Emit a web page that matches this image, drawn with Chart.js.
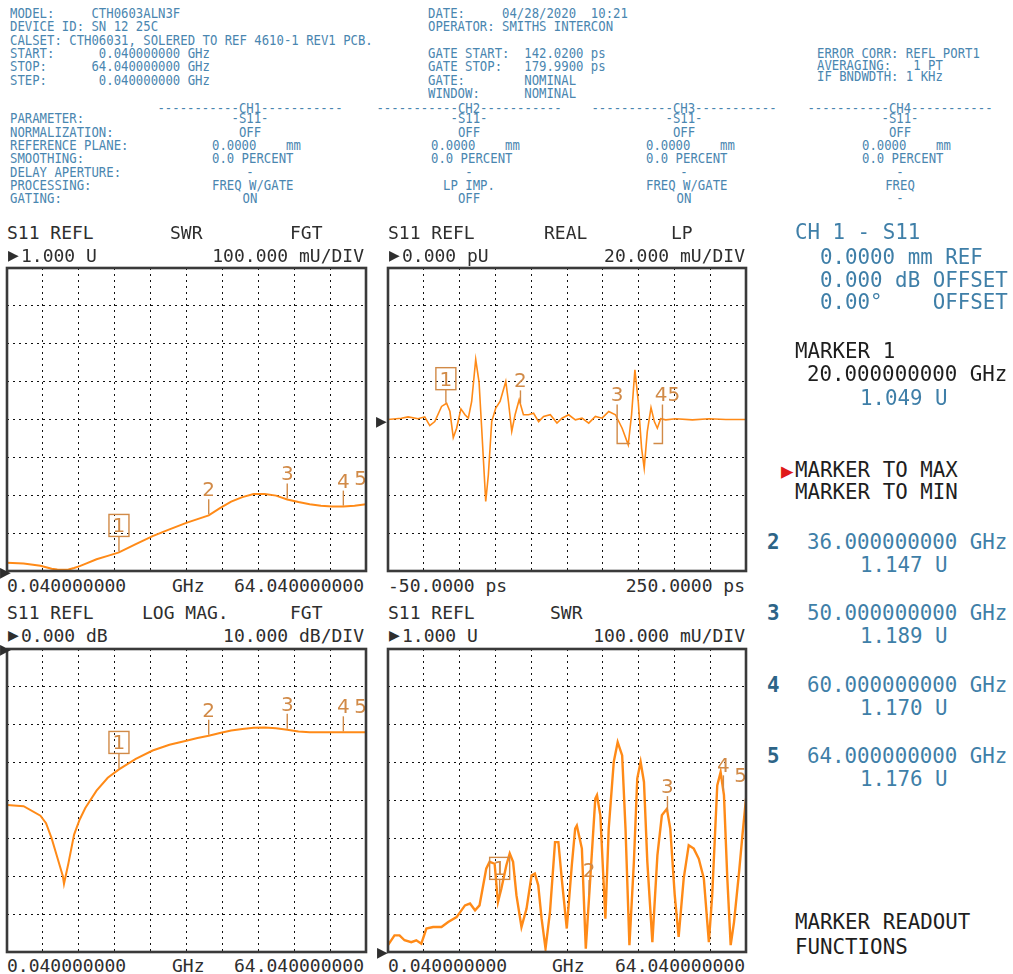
<!DOCTYPE html>
<html><head><meta charset="utf-8">
<script src="https://cdn.jsdelivr.net/npm/chart.js@4.4.1/dist/chart.umd.min.js"></script>
<style>
html,body{margin:0;padding:0;background:#fff}
body{width:1013px;height:974px;position:relative;overflow:hidden;font-family:"DejaVu Sans Mono","Liberation Mono",monospace}
.t{position:absolute;white-space:pre;line-height:1}
.hd{font-size:12.3px;color:#4a86b0}
.pl{font-size:18px;color:#2e2e2e}
.rp{font-size:20.8px}
.bl{color:#3f7fa8}
.bk{color:#1e1e1e}
.num{color:#2d6487;font-weight:bold}
canvas{position:absolute}
</style>
</head><body>
<canvas id="c1" width="365" height="309"></canvas>
<canvas id="c2" width="364" height="309"></canvas>
<canvas id="c3" width="365" height="309"></canvas>
<canvas id="c4" width="364" height="309"></canvas>
<script>
// ---------------- DATA ----------------
const freqStartGHz = 0.04, freqStopGHz = 64.04;
const timeStartPs = -50, timeStopPs = 250;

// CH1 (SWR, gated) and CH3 (log mag, gated) share this frequency grid
const freqGHz = [0.04,3,6,7,8,9,10,10.2,11,12,13,14,16,18,20,23,26,29,32,34,36,38,40,42,44,46,48,50,52,54,56,58,60,62,64.04];
const swrGated = [1.022,1.020,1.014,1.010,1.006,1.004,1.003,1.003,1.004,1.008,1.013,1.019,1.031,1.040,1.049,1.071,1.092,1.110,1.127,1.137,1.147,1.166,1.183,1.195,1.203,1.203,1.199,1.189,1.182,1.176,1.172,1.170,1.170,1.172,1.176];
const logMagGatedDb = [-41.2,-41.5,-44,-46,-50,-55,-60,-62,-56.5,-49,-45,-42,-37.4,-34,-31.8,-29,-26.8,-25.3,-24.2,-23.5,-22.9,-22.2,-21.5,-21.1,-20.8,-20.7,-20.9,-21.3,-21.8,-22,-22,-22,-22,-22,-22];

// CH2 (low-pass impulse, real part)
const timePs = [-50,-38.8,-33.2,-24.8,-19.2,-15,-10.8,-5.1,-0.9,1.9,4.7,7.5,11.1,14.5,17.3,20.1,23.5,26.3,28.5,31.9,34.1,36.9,40.3,43.9,48.7,50.9,53.7,56.5,59.9,63.5,67.7,72,76.2,80.4,86,91.6,95.8,101.4,107,112.6,118.2,123.8,129.4,135,140.6,146.2,151.3,154.1,156.9,159.7,162.5,164.7,167.3,170.4,173.2,175.7,178.5,182.7,191.1,205.1,219.1,233.2,250];
const realMU = [0,0.7,1.4,0.4,1.4,-3.2,-1.1,6.9,8.6,4.2,-9.5,-4.6,5.6,2.5,0.7,9.5,31.7,19.7,-4.6,-43.3,-29.2,-1.1,6.0,9.5,20.1,9.5,-6.3,2.5,10.4,2.5,2.5,3.3,-1.1,1.6,2.5,-1.9,0.7,2.5,-0.2,0.7,-1.9,1.6,0.7,4.2,2.5,-4.6,-13.4,2.5,26.2,9.5,-15.1,-25.7,-6.3,6.3,-1.1,-4.6,0.4,-0.2,0.4,-0.2,0.4,0,0];

// CH4 (SWR, no gating)
const freqRawGHz = [0.04,1.2,2.1,3.0,4.2,5.1,6.0,6.9,8.1,9.6,10.8,12.3,13.8,14.7,15.6,16.4,17.6,18.2,19.1,19.7,20.3,21.2,21.8,22.4,23.0,23.9,24.8,25.7,26.3,26.9,27.5,28.2,29.0,29.9,30.5,31.1,32.0,32.9,33.5,33.8,34.7,35.4,36.2,37.1,37.4,38.0,38.9,39.5,40.4,41.1,41.9,42.5,43.2,44.0,44.6,45.2,45.8,46.4,47.3,48.2,49.0,49.9,50.5,51.3,52.0,52.9,53.8,54.7,55.6,56.5,57.4,58.0,58.9,59.5,60.1,60.7,61.3,61.9,62.8,63.4,64.04];
const swrRaw = [1.018,1.044,1.044,1.031,1.026,1.031,1.022,1.062,1.066,1.066,1.079,1.092,1.123,1.128,1.110,1.123,1.220,1.238,1.233,1.132,1.167,1.229,1.260,1.238,1.150,1.066,1.114,1.202,1.207,1.176,1.088,1.009,1.106,1.290,1.290,1.194,1.062,1.229,1.326,1.334,1.273,1.009,1.194,1.405,1.414,1.361,1.088,1.326,1.502,1.554,1.519,1.326,1.018,1.238,1.458,1.502,1.449,1.238,1.026,1.255,1.361,1.378,1.326,1.150,1.040,1.194,1.282,1.273,1.246,1.194,1.026,1.150,1.440,1.475,1.414,1.194,1.018,1.079,1.211,1.308,1.405];

// markers
const markerGHz = [20, 36, 50, 60, 64];
const markerLabels = ['1','2','3','4','5'];
const markerPs = [-1.5, 61];
const markerPsLabels = ['1','2'];
const gateStartPs = 142.02, gateStopPs = 179.99;
const gateLabels = ['3','45'];

// ---------------- HELPERS ----------------
const TRACE = '#ff8a17', MK = '#d18a47';
function interp(xs, ys, x){
  for (let i=1;i<xs.length;i++){ if (x<=xs[i]){ const f=(x-xs[i-1])/(xs[i]-xs[i-1]); return ys[i-1]+f*(ys[i]-ys[i-1]); } }
  return ys[ys.length-1];
}
function T(x, y, s, cls, align, fs){
  const d=document.createElement('div'); d.className='t '+cls; d.textContent=s;
  d.style.left=x+'px'; d.style.top=(y-0.48*fs)+'px';
  let tr='';
  if(align==='c') tr+='translateX(-50%) '; else if(align==='r') tr+='translateX(-100%) ';
  if(cls.indexOf('hd')>=0){ tr+='scaleY(1.18)'; d.style.transformOrigin='0 50%'; }
  if(tr) d.style.transform=tr;
  document.body.appendChild(d); return d;
}
function grid(a,b,n){ const r=[]; for(let i=0;i<=n;i++) r.push(a+(b-a)*i/n); return r; }

function makeChart(id, left, top, xs, ys, xmin, xmax, xn, ymin, ymax, yn, lw, drawMarkers){
  const cv=document.getElementById(id); cv.style.left=(left-3)+'px'; cv.style.top=(top-3)+'px';
  const xg=grid(xmin,xmax,xn), yg=grid(ymin,ymax,yn);
  const ax=(min,max,g)=>({type:'linear',min,max,
    afterBuildTicks:s=>{s.ticks=g.map(v=>({value:v}));},
    ticks:{display:false},
    grid:{display:true,drawTicks:false,color:'#111111',lineWidth:1},
    border:{display:false,dash:[2,4]}});
  return new Chart(cv,{type:'line',
    data:{datasets:[{data:xs.map((x,i)=>({x,y:ys[i]})),borderColor:TRACE,borderWidth:lw,pointRadius:0,tension:0,fill:false}]},
    options:{responsive:false,animation:false,devicePixelRatio:1,layout:{padding:3},
      plugins:{legend:{display:false},tooltip:{enabled:false}},
      scales:{x:ax(xmin,xmax,xg),y:ax(ymin,ymax,yg)}},
    plugins:[{id:'frame',afterDatasetsDraw(ch){
      const {ctx,chartArea:a,scales}=ch; ctx.save();
      drawMarkers(ctx,a,scales.x,scales.y);
      ctx.strokeStyle='#3a3a3a'; ctx.lineWidth=2.6; ctx.strokeRect(a.left,a.top,a.right-a.left,a.bottom-a.top);
      ctx.restore();}}]
  });
}
function mkLabel(ctx,a,px,baseY,lab){
  ctx.fillStyle=MK; ctx.font='20px "DejaVu Sans"'; ctx.textAlign='center'; ctx.textBaseline='alphabetic';
  const w=ctx.measureText(lab).width; const cx=Math.min(px,a.right+1-w/2);
  ctx.fillText(lab,cx,baseY);
}
function freqMarkers(xs,ys){
  return (ctx,a,sx,sy)=>{
    markerGHz.forEach((f,i)=>{
      const px=sx.getPixelForValue(f), py=sy.getPixelForValue(interp(xs,ys,f));
      ctx.strokeStyle=MK; ctx.lineWidth=1.4;
      ctx.beginPath(); ctx.moveTo(px,py-1); ctx.lineTo(px,py-16); ctx.stroke();
      if(i===0){ ctx.strokeRect(px-10,py-38,20,22); mkLabel(ctx,a,px,py-20,markerLabels[i]); }
      else mkLabel(ctx,a,px,py-19,markerLabels[i]);
    });
  };
}
function timeMarkers(ctx,a,sx,sy){
  markerPs.forEach((t,i)=>{
    const px=sx.getPixelForValue(t), py=sy.getPixelForValue(interp(timePs,realMU,t));
    ctx.strokeStyle=MK; ctx.lineWidth=1.4;
    ctx.beginPath(); ctx.moveTo(px,py-1); ctx.lineTo(px,py-14); ctx.stroke();
    if(i===0){ ctx.strokeRect(px-10,py-36,20,22); mkLabel(ctx,a,px,py-18,markerPsLabels[i]); }
    else mkLabel(ctx,a,px,py-17,markerPsLabels[i]);
  });
  const y0=sy.getPixelForValue(0);
  [[gateStartPs,13,gateLabels[0]],[gateStopPs,-9,gateLabels[1]]].forEach(([t,h,lab])=>{
    const px=sx.getPixelForValue(t);
    ctx.strokeStyle=MK; ctx.lineWidth=1.4;
    ctx.beginPath(); ctx.moveTo(px,y0-15); ctx.lineTo(px,y0+24); ctx.lineTo(px+h,y0+24); ctx.stroke();
    mkLabel(ctx,a,px+(lab.length>1?5:0),y0-19,lab);
  });
}

makeChart('c1',7,268,freqGHz,swrGated,freqStartGHz,freqStopGHz,10,1.0,1.8,8,2,freqMarkers(freqGHz,swrGated));
makeChart('c2',388,268,timePs,realMU,timeStartPs,timeStopPs,10,-80,80,8,1.6,timeMarkers);
makeChart('c3',7,649,freqGHz,logMagGatedDb,freqStartGHz,freqStopGHz,10,-80,0,8,2,freqMarkers(freqGHz,logMagGatedDb));
makeChart('c4',388,649,freqRawGHz,swrRaw,freqStartGHz,freqStopGHz,10,1.0,1.8,8,2.4,freqMarkers(freqRawGHz,swrRaw));

// ---------------- TEXT ----------------
const H=12.3;
const rows=[13,26.3,39.6,53,66.2,79.5,92.8];
T(10,rows[0],'MODEL:     CTH0603ALN3F','hd','l',H);
T(10,rows[1],'DEVICE ID: SN 12 25C','hd','l',H);
T(10,rows[2],'CALSET: CTH06031, SOLERED TO REF 4610-1 REV1 PCB.','hd','l',H);
T(10,rows[3],'START:      0.040000000 GHz','hd','l',H);
T(10,rows[4],'STOP:      64.040000000 GHz','hd','l',H);
T(10,rows[5],'STEP:       0.040000000 GHz','hd','l',H);
T(428,rows[0],'DATE:     04/28/2020  10:21','hd','l',H);
T(428,rows[1],'OPERATOR: SMITHS INTERCON','hd','l',H);
T(428,rows[3],'GATE START:  142.0200 ps','hd','l',H);
T(428,rows[4],'GATE STOP:   179.9900 ps','hd','l',H);
T(428,rows[5],'GATE:        NOMINAL','hd','l',H);
T(428,rows[6],'WINDOW:      NOMINAL','hd','l',H);
T(817,53,'ERROR CORR: REFL PORT1','hd','l',H);
T(817,64.5,'AVERAGING:   1 PT','hd','l',H);
T(817,76,'IF BNDWDTH: 1 KHz','hd','l',H);

const chRows=[118.3,131.6,144.9,158.2,171.5,184.8,198.1];
['PARAMETER:','NORMALIZATION:','REFERENCE PLANE:','SMOOTHING:','DELAY APERTURE:','PROCESSING:','GATING:'].forEach((s,i)=>T(10,chRows[i],s,'hd','l',H));
const chCenters=[250,469,684,900];
const proc=['FREQ W/GATE','LP IMP.','FREQ W/GATE','FREQ'];
const gating=['ON','OFF','ON','-'];
chCenters.forEach((c,i)=>{
  T(c,107.5,'-----------CH'+(i+1)+'-----------','hd','c',H);
  T(c,chRows[0],'-S11-','hd','c',H);
  T(c,chRows[1],'OFF','hd','c',H);
  T(c-38,chRows[2],'0.0000    mm','hd','l',H);
  T(c-38,chRows[3],'0.0 PERCENT','hd','l',H);
  T(c,chRows[4],'-','hd','c',H);
  if(proc[i].length>10) T(c-38,chRows[5],proc[i],'hd','l',H); else T(c,chRows[5],proc[i],'hd','c',H);
  T(c,chRows[6],gating[i],'hd','c',H);
});

// plot headers
const P=18;
function plotHead(x0,x1,y1,mid,midX,right,ref,scale,y2,bl,bm,bmX,br){
  T(x0,y1,'S11 REFL','pl','l',P);
  T(midX,y1,mid,'pl','l',P);
  if(right) T(x0+283,y1,right,'pl','l',P);
  T(x0+1,y1+18,'\u25B6','pl','l',11);
  T(x0+14,y1+23,ref,'pl','l',P);
  T(x1,y1+23,scale,'pl','r',P);
  T(x0,y2,bl,'pl','l',P);
  if(bm) T(bmX,y2,bm,'pl','l',P);
  T(x1,y2,br,'pl','r',P);
}
plotHead(7,364,233,'SWR',170,'FGT','1.000 U','100.000 mU/DIV',586,'0.040000000','GHz',172,'64.040000000');
plotHead(388,745,233,'REAL',544,'LP','0.000 pU','20.000 mU/DIV',586,'-50.0000 ps','',0,'250.0000 ps');
plotHead(7,364,613,'LOG MAG.',142,'FGT','0.000 dB','10.000 dB/DIV',966,'0.040000000','GHz',172,'64.040000000');
plotHead(388,745,613,'SWR',550,'','1.000 U','100.000 mU/DIV',966,'0.040000000','GHz',552,'64.040000000');
// reference level arrows
T(0,567,'\u25B6','pl','l',9); T(376,416,'\u25B6','pl','l',9); T(0,644,'\u25B6','pl','l',9); T(377,947,'\u25B6','pl','l',9);

// right panel
const R=20.8;
T(795,232,'CH 1 - S11','rp bl','l',R);
T(820,257,'0.0000 mm REF','rp bl','l',R);
T(820,280,'0.000 dB OFFSET','rp bl','l',R);
T(820,302,'0.00\u00B0    OFFSET','rp bl','l',R);
T(795,351,'MARKER 1','rp bk','l',R);
T(807,374,'20.000000000 GHz','rp bk','l',R);
T(860,398,'1.049 U','rp bl','l',R);
const tri=T(781,468,'\u25B6','rp','l',14); tri.style.color='#e01818';
T(795,470,'MARKER TO MAX','rp bk','l',R);
T(795,492,'MARKER TO MIN','rp bk','l',R);
const mkF=['36.000000000 GHz','50.000000000 GHz','60.000000000 GHz','64.000000000 GHz'];
const mkV=['1.147 U','1.189 U','1.170 U','1.176 U'];
const mkY=[542,613,685,756];
mkY.forEach((y,i)=>{ T(767,y,String(i+2),'rp num','l',R); T(807,y,mkF[i],'rp bl','l',R); T(860,y+22.5,mkV[i],'rp bl','l',R); });
T(795,922,'MARKER READOUT','rp bk','l',R);
T(795,947,'FUNCTIONS','rp bk','l',R);
</script>
</body></html>
